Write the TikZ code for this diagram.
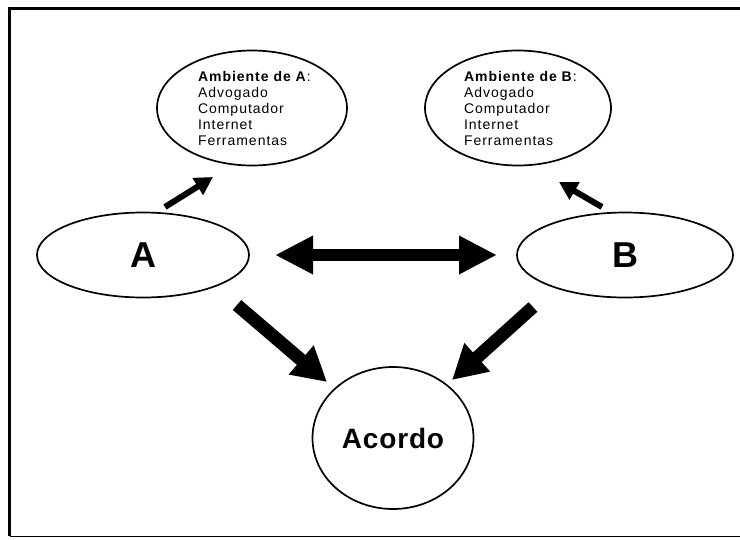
\documentclass[tikz,border=0pt]{standalone}
\usepackage{fontspec}
\setmainfont{Liberation Sans}
\newfontfamily\envfont{Liberation Sans}[LetterSpace=7]
\newfontfamily\bigfont{Liberation Sans}[LetterSpace=3]
\usetikzlibrary{shapes.geometric,arrows.meta}
\begin{document}
\begin{tikzpicture}[x=1pt,y=-1pt,
  every node/.style={inner sep=0pt, outer sep=0pt},
  bubble/.style={draw, ellipse, line width=1.7pt},
  envtext/.style={align=left, anchor=north west, font=\envfont\fontsize{14}{16}\selectfont},
  partylabel/.style={font=\bfseries\fontsize{36}{40}\selectfont},
  dealfont/.style={font=\bigfont\bfseries\fontsize{28}{30}\selectfont},
  bigarrow/.style={line width=13pt, -{Triangle[length=34pt,width=36pt]}},
  dblarrow/.style={line width=12pt, {Triangle[length=38pt,width=36pt]}-{Triangle[length=38pt,width=36pt]}},
  smallarrow/.style={line width=6pt, -{Triangle[length=18pt,width=19pt]}}
]
\useasboundingbox (0,0) rectangle (740,539);
\fill[white] (0,0) rectangle (740,539);

% frame, open on the right
\draw[line width=3pt] (9.5,536) -- (9.5,8) -- (745,8);
\draw[line width=1.5pt] (9.5,536.5) -- (745,536.5);

% environment bubbles
\node[bubble, minimum width=190pt, minimum height=115pt] (envA) at (252,108) {};
\node[envtext] (envAtext) at (198,71) {\textbf{Ambiente de A}:\\Advogado\\Computador\\Internet\\Ferramentas};
\node[bubble, minimum width=186pt, minimum height=115pt] (envB) at (518,108) {};
\node[envtext] (envBtext) at (464,71) {\textbf{Ambiente de B}:\\Advogado\\Computador\\Internet\\Ferramentas};

% parties and agreement
\node[bubble, minimum width=212pt, minimum height=85pt, partylabel] (A) at (143,255) {A};
\node[bubble, minimum width=216pt, minimum height=85pt, partylabel] (B) at (625,255) {B};
\node[bubble, minimum width=161pt, minimum height=142pt, dealfont] (acordo) at (393,438) {Acordo};

% arrow end points
\coordinate (aEnvTail) at (165,207);
\coordinate (aEnvTip) at (213,177);
\coordinate (bEnvTail) at (602,207);
\coordinate (bEnvTip) at (559,182);
\coordinate (aDealTail) at (237,305);
\coordinate (aDealTip) at (327,382);
\coordinate (bDealTail) at (533,307);
\coordinate (bDealTip) at (452,380);

\draw[smallarrow] (aEnvTail) -- (aEnvTip);
\draw[smallarrow] (bEnvTail) -- (bEnvTip);
\draw[dblarrow, shorten <=26pt, shorten >=20pt] (A) -- (B);
\draw[bigarrow] (aDealTail) -- (aDealTip);
\draw[bigarrow] (bDealTail) -- (bDealTip);
\end{tikzpicture}
\end{document}
